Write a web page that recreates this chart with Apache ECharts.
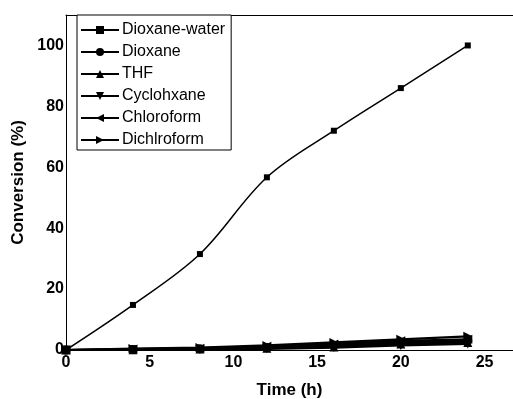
<!DOCTYPE html>
<html>
<head>
<meta charset="utf-8">
<script src="https://cdn.jsdelivr.net/npm/echarts@6/dist/echarts.min.js"></script>
<style>
  html, body { margin: 0; padding: 0; background: #fff; }
  #chart { width: 513px; height: 399px; }
</style>
</head>
<body>
<div id="chart"></div>
<script>
// time points (h)
var times = [0, 4, 8, 12, 16, 20, 24];

// conversion (%) per solvent
var dioxaneWater = [0, 14.8, 31.5, 56.7, 72, 86, 100];
var dioxane      = [0, 0.2, 0.4, 0.8, 1.5, 2.5, 3.0];
var thf          = [0, 0.1, 0.3, 0.6, 1.0, 2.0, 2.5];
var cyclohxane   = [0, 0.1, 0.2, 0.4, 0.8, 1.5, 2.0];
var chloroform   = [0, 0.3, 0.6, 1.2, 2.0, 3.0, 3.5];
var dichloroform = [0, 0.5, 0.8, 1.5, 2.5, 3.5, 4.5];

var seriesNames = ['Dioxane-water', 'Dioxane', 'THF', 'Cyclohxane', 'Chloroform', 'Dichlroform'];
var seriesData  = [dioxaneWater, dioxane, thf, cyclohxane, chloroform, dichloroform];
var symbols     = ['rect', 'circle', 'triangle', 'triangle', 'triangle', 'triangle'];
var rotations   = [0, 0, 0, 180, 90, -90];

var FONT = 'Liberation Sans, Arial';

function pairs(ys) {
    var out = [];
    for (var i = 0; i < times.length; i++)
        out.push([times[i], ys[i]]);
    return out;
}

var chart = echarts.init(document.getElementById('chart'));

var series = [];
for (var i = 0; i < seriesNames.length; i++) {
    series.push({
        name: seriesNames[i],
        type: 'line',
        data: pairs(seriesData[i]),
        smooth: i === 0 ? 0.35 : false,
        symbol: symbols[i],
        symbolRotate: rotations[i],
        symbolSize: i === 0 ? 6 : 9,
        showAllSymbol: true,
        lineStyle: { color: '#000', width: i === 0 ? 1.5 : 2.2 },
        itemStyle: { color: '#000' },
        animation: false,
        z: 10 - i
    });
}

var option = {
    backgroundColor: '#fff',
    grid: { left: 66, top: 15, right: 0, bottom: 49, outerBoundsMode: 'none', containLabel: false },
    legend: {
        data: seriesNames,
        orient: 'vertical',
        left: 77, top: 15,
        width: 164, height: 133,
        padding: [7, 6, 2, 3],
        itemGap: 6,
        itemWidth: 38, itemHeight: 10,
        backgroundColor: '#fff',
        borderColor: '#000', borderWidth: 1,
        textStyle: { color: '#000', fontFamily: FONT, fontSize: 16, padding: [0, 0, 0, -2] }
    },
    xAxis: [{
        type: 'value',
        min: 0, max: 26.7, interval: 5,
        name: 'Time (h)',
        nameLocation: 'middle',
        nameGap: 32,
        nameTextStyle: { color: '#000', fontWeight: 'bold', fontSize: 17, fontFamily: FONT },
        axisLine: { lineStyle: { color: '#000', width: 1 } },
        axisTick: { show: false },
        splitLine: { show: false },
        axisLabel: {
            color: '#000', fontWeight: 'bold', fontSize: 16, fontFamily: FONT, margin: 5,
            formatter: function (v) { return v % 5 === 0 ? String(v) : ''; }
        }
    }, {
        // top frame line
        type: 'value',
        position: 'top',
        min: 0, max: 26.7,
        axisLine: { show: true, lineStyle: { color: '#000', width: 1 } },
        axisTick: { show: false },
        axisLabel: { show: false },
        splitLine: { show: false }
    }],
    yAxis: {
        type: 'value',
        min: 0, max: 110, interval: 20,
        name: 'Conversion (%)',
        nameLocation: 'middle',
        nameGap: 37,
        nameTextStyle: { color: '#000', fontWeight: 'bold', fontSize: 17, fontFamily: FONT },
        axisLine: { show: true, lineStyle: { color: '#000', width: 1 } },
        axisTick: { show: false },
        splitLine: { show: false },
        axisLabel: {
            color: '#000', fontWeight: 'bold', fontSize: 16, fontFamily: FONT, margin: 2,
            formatter: function (v) { return v % 20 === 0 ? String(v) : ''; }
        }
    },
    series: series
};

chart.setOption(option);
</script>
</body>
</html>
